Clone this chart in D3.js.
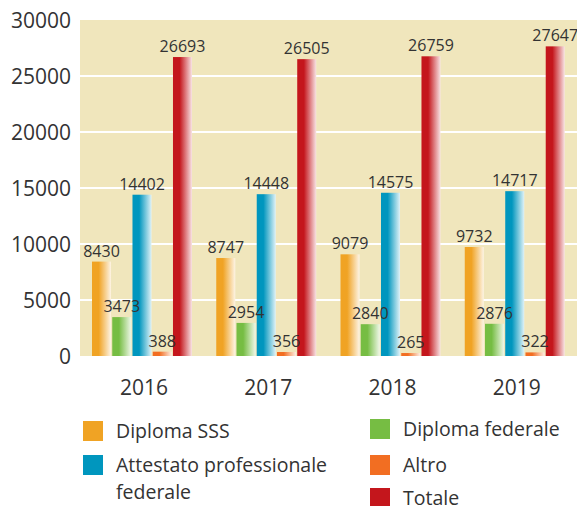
<!DOCTYPE html>
<html>
<head>
<meta charset="utf-8">
<script src="https://cdn.jsdelivr.net/npm/d3@7"></script>
<style>
  body { margin: 0; background: #fff; }
  text { font-family: "Open Sans", "Noto Sans", sans-serif; fill: #333; }
</style>
</head>
<body>
<div id="chart"></div>
<script>
// data
const years = ['2016', '2017', '2018', '2019'];
const seriesNames = ['Diploma SSS', 'Diploma federale', 'Attestato professionale federale', 'Altro', 'Totale'];
const seriesColors = ['#f0a324', '#76bd43', '#0096be', '#f26e22', '#c4161c'];
const diplomaSSS = [8430, 8747, 9079, 9732];
const diplomaFederale = [3473, 2954, 2840, 2876];
const attestato = [14402, 14448, 14575, 14717];
const altro = [388, 356, 265, 322];
const totale = [26693, 26505, 26759, 27647];
const yTicks = [0, 5000, 10000, 15000, 20000, 25000, 30000];

const allSeries = [diplomaSSS, diplomaFederale, attestato, altro, totale];

const width = 577, height = 506;
const plotLeft = 80, plotRight = 577, plotTop = 20, plotBottom = 356;

const svg = d3.select('#chart').append('svg')
  .attr('width', width)
  .attr('height', height);

// gradients: solid on left fading to white on right
const defs = svg.append('defs');
seriesColors.forEach((c, i) => {
  const g = defs.append('linearGradient')
    .attr('id', 'grad' + i)
    .attr('x1', '0%').attr('x2', '100%').attr('y1', '0%').attr('y2', '0%');
  g.append('stop').attr('offset', '0%').attr('stop-color', c);
  g.append('stop').attr('offset', '35%').attr('stop-color', c);
  g.append('stop').attr('offset', '100%').attr('stop-color', d3.interpolateRgb(c, '#fff')(0.88));
});

const x0 = d3.scaleBand().domain(years).range([plotLeft, plotRight]).paddingInner(0).paddingOuter(0);
const x1 = d3.scaleBand().domain(d3.range(seriesNames.length))
  .range([12, 12 + 100]).paddingInner(0.06);
const y = d3.scaleLinear().domain([0, 30000]).range([plotBottom, plotTop]);

// plot background
svg.append('rect')
  .attr('x', plotLeft).attr('y', plotTop)
  .attr('width', plotRight - plotLeft).attr('height', plotBottom - plotTop)
  .style('fill', '#f0e6bc');

// grid
svg.selectAll('.grid')
  .data(yTicks.filter(d => d > 0 && d < 30000))
  .enter().append('line')
  .attr('x1', plotLeft).attr('x2', plotRight)
  .attr('y1', d => y(d)).attr('y2', d => y(d))
  .style('stroke', '#fff').style('stroke-width', 2);

// y labels
svg.selectAll('.ylab')
  .data(yTicks)
  .enter().append('text')
  .attr('x', 71)
  .attr('y', d => y(d) + 7.5)
  .attr('text-anchor', 'end')
  .style('font-size', '21px')
  .text(d => d);

// bars
const groups = svg.selectAll('.grp')
  .data(years)
  .enter().append('g')
  .attr('transform', d => `translate(${x0(d)},0)`);

groups.each(function (yr, yi) {
  const g = d3.select(this);
  const vals = allSeries.map((s, si) => ({ si, v: s[yi] }));
  g.selectAll('rect')
    .data(vals)
    .enter().append('rect')
    .attr('x', d => x1(d.si))
    .attr('width', x1.bandwidth())
    .attr('y', d => y(d.v))
    .attr('height', d => plotBottom - y(d.v))
    .style('fill', d => `url(#grad${d.si})`);
});

groups.each(function (yr, yi) {
  const g = d3.select(this);
  const vals = allSeries.map((s, si) => ({ si, v: s[yi] }));
  g.selectAll('text.val')
    .data(vals)
    .enter().append('text')
    .attr('class', 'val')
    .attr('x', d => x1(d.si) + x1.bandwidth() / 2)
    .attr('y', d => y(d.v) - 5)
    .attr('text-anchor', 'middle')
    .style('font-size', '16px')
    .text(d => d.v);
});

// x labels
svg.selectAll('.xlab')
  .data(years)
  .enter().append('text')
  .attr('x', d => x0(d) + 64)
  .attr('y', 395)
  .attr('text-anchor', 'middle')
  .style('font-size', '21px')
  .text(d => d);

// legend
const legendItems = [
  { si: 0, x: 83, y: 421, lines: ['Diploma SSS'] },
  { si: 2, x: 83, y: 455, lines: ['Attestato professionale', 'federale'] },
  { si: 1, x: 370, y: 419, lines: ['Diploma federale'] },
  { si: 3, x: 370, y: 455, lines: ['Altro'] },
  { si: 4, x: 370, y: 488, lines: ['Totale'] }
];

const legend = svg.selectAll('.legend-item')
  .data(legendItems)
  .enter().append('g')
  .attr('transform', d => `translate(${d.x},${d.y})`);

legend.append('rect')
  .attr('width', 20).attr('height', 20)
  .style('fill', d => seriesColors[d.si]);

legend.each(function (d) {
  const t = d3.select(this).append('text')
    .attr('x', 33)
    .attr('y', 16.5)
    .style('font-size', '19.5px');
  d.lines.forEach((l, i) => {
    t.append('tspan').attr('x', 33).attr('dy', i === 0 ? 0 : 27).text(l);
  });
});
</script>
</body>
</html>
